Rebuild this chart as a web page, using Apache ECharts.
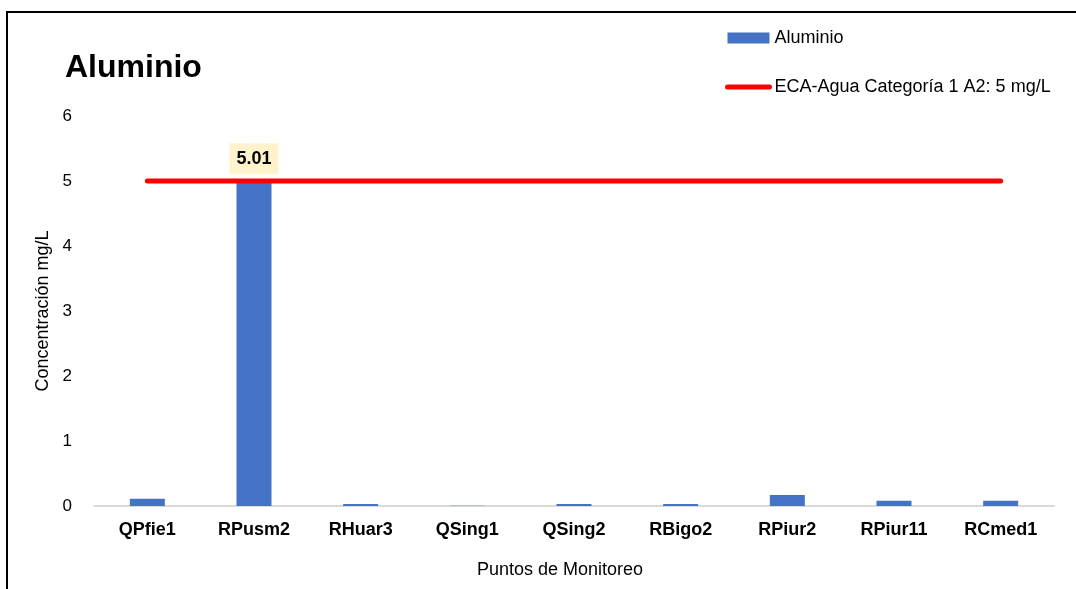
<!DOCTYPE html>
<html>
<head>
<meta charset="utf-8">
<title>Aluminio</title>
<script src="https://cdn.jsdelivr.net/npm/echarts@6/dist/echarts.min.js"></script>
<style>
  html, body { margin: 0; padding: 0; background: #fff; }
  #chart { width: 1076px; height: 589px; }
</style>
</head>
<body>
<div id="chart"></div>
<script>
var puntos = ['QPfie1', 'RPusm2', 'RHuar3', 'QSing1', 'QSing2', 'RBigo2', 'RPiur2', 'RPiur11', 'RCmed1'];
var aluminio = [0.11, 5.01, 0.03, 0.003, 0.03, 0.03, 0.17, 0.08, 0.08];
var eca = [5, 5, 5, 5, 5, 5, 5, 5, 5];
var yTicks = [0, 1, 2, 3, 4, 5, 6];
// only the value above the limit gets a data label
var labelled = ['RPusm2'];

var font = 'Liberation Sans, Arial, sans-serif';
var chart = echarts.init(document.getElementById('chart'));

var barData = aluminio.map(function (v, i) {
  return {
    value: v,
    label: { show: labelled.indexOf(puntos[i]) >= 0 }
  };
});

chart.setOption({
  animation: false,
  textStyle: { fontFamily: font, color: '#000' },
  title: {
    text: 'Aluminio',
    left: 60,
    top: 47,
    textStyle: { fontSize: 32, fontWeight: 'bold', color: '#000', fontFamily: font }
  },
  legend: {
    orient: 'vertical',
    left: 720,
    top: 24,
    itemWidth: 42,
    itemHeight: 11,
    itemGap: 31,
    textStyle: { fontSize: 18, color: '#000', fontFamily: font },
    data: [
      { name: 'Aluminio', icon: 'rect' },
      {
        name: 'ECA-Agua Categoría 1 A2: 5 mg/L',
        itemStyle: { opacity: 0 },
        lineStyle: { width: 5, color: '#FF0000', cap: 'round' }
      }
    ]
  },
  graphic: [{
    type: 'rect',
    shape: { x: 7, y: 12, width: 1100, height: 620 },
    style: { fill: 'none', stroke: '#000', lineWidth: 2 },
    silent: true
  }],
  grid: { left: 94, right: 22, top: 116, bottom: 83 },
  xAxis: {
    type: 'category',
    data: puntos,
    name: 'Puntos de Monitoreo',
    nameLocation: 'middle',
    nameGap: 55,
    nameTextStyle: { fontSize: 18, color: '#000', padding: [0, 28, 0, 0] },
    axisLine: { lineStyle: { color: '#D9D9D9', width: 2 } },
    axisTick: { show: false },
    axisLabel: { fontSize: 18, fontWeight: 'bold', color: '#000', margin: 15 }
  },
  yAxis: {
    type: 'value',
    min: yTicks[0],
    max: yTicks[yTicks.length - 1],
    interval: 1,
    name: 'Concentración mg/L',
    nameLocation: 'middle',
    nameGap: 40,
    nameTextStyle: { fontSize: 18, color: '#000' },
    axisLine: { show: false },
    axisTick: { show: false },
    splitLine: { show: false },
    axisLabel: { fontSize: 17, color: '#000', margin: 22 }
  },
  series: [
    {
      name: 'Aluminio',
      type: 'bar',
      barWidth: 35,
      data: barData,
      itemStyle: { color: '#4472C4' },
      label: {
        position: 'top',
        distance: 6,
        fontSize: 18,
        fontWeight: 'bold',
        color: '#000',
        backgroundColor: '#FFF2CC',
        padding: [7, 7, 6, 7],
        formatter: function (p) { return p.value.toFixed(2); }
      }
    },
    {
      name: 'ECA-Agua Categoría 1 A2: 5 mg/L',
      type: 'line',
      data: eca,
      symbol: 'none',
      lineStyle: { color: '#FF0000', width: 5, cap: 'round' },
      itemStyle: { color: '#FF0000' },
      z: 3
    }
  ]
});
</script>
</body>
</html>
